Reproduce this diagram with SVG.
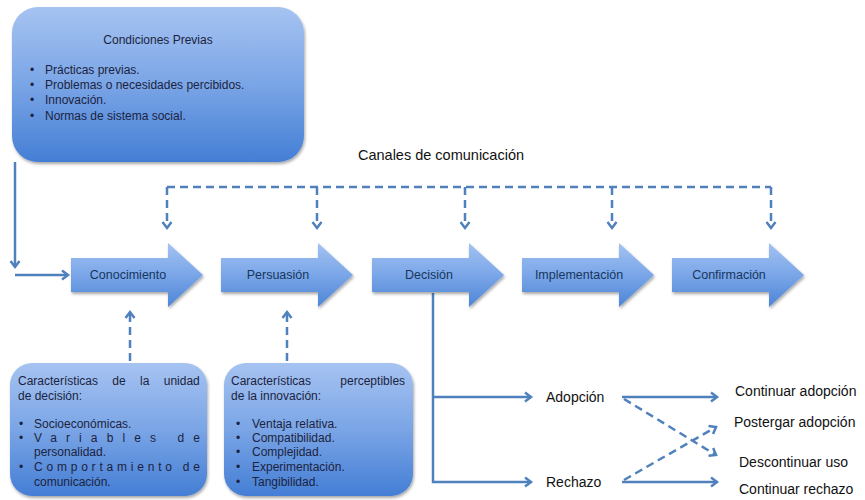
<svg xmlns="http://www.w3.org/2000/svg" width="865" height="500" viewBox="0 0 865 500">
<defs>
<linearGradient id="gBox" x1="0" y1="0" x2="0" y2="1">
<stop offset="0" stop-color="#a6c3f1"/>
<stop offset="0.5" stop-color="#7aa5e6"/>
<stop offset="1" stop-color="#447ed5"/>
</linearGradient>
<linearGradient id="gArrow" x1="0" y1="0" x2="0" y2="1">
<stop offset="0" stop-color="#a3c2f1"/>
<stop offset="0.5" stop-color="#7aa6e8"/>
<stop offset="1" stop-color="#4d85d6"/>
</linearGradient>
<filter id="sh" x="-10%" y="-10%" width="120%" height="125%">
<feDropShadow dx="1" dy="2" stdDeviation="1.5" flood-color="#000" flood-opacity="0.35"/>
</filter>
<marker id="ah" markerUnits="userSpaceOnUse" markerWidth="14" markerHeight="14" viewBox="-8 -7 14 14" refX="0" refY="0" orient="auto">
<path d="M-6,-4.5 L0,0 L-6,4.5" fill="none" stroke="#4f81bd" stroke-width="2.5"/>
</marker>
<style>
.box{fill:url(#gBox);filter:url(#sh)}
.arr{fill:url(#gArrow);filter:url(#sh)}
.t{font-family:"Liberation Sans",Arial,sans-serif;font-size:12px;fill:#1c2340}
.lab{font-family:"Liberation Sans",Arial,sans-serif;font-size:12.5px;fill:#17365d;text-anchor:middle}
.big{font-family:"Liberation Sans",Arial,sans-serif;font-size:14px;fill:#111}
.c{fill:none;stroke:#4f81bd;stroke-width:2.5}
.d{fill:none;stroke:#4f81bd;stroke-width:2.5;stroke-dasharray:8 5}
</style>
</defs>

<g id="connectors">
<path class="c" d="M15,162 V267" marker-end="url(#ah)"/>
<path class="c" d="M15,275 H68" marker-end="url(#ah)"/>
<path class="d" d="M167,187 H771"/>
<path class="d" d="M167,187 V228" marker-end="url(#ah)"/>
<path class="d" d="M317,187 V228" marker-end="url(#ah)"/>
<path class="d" d="M465,187 V228" marker-end="url(#ah)"/>
<path class="d" d="M612,187 V228" marker-end="url(#ah)"/>
<path class="d" d="M771,187 V228" marker-end="url(#ah)"/>
<path class="d" d="M130,361 V312" marker-end="url(#ah)"/>
<path class="d" d="M287,361 V312" marker-end="url(#ah)"/>
<path class="c" d="M433,293 V482 H531" marker-end="url(#ah)"/>
<path class="c" d="M433,397 H531" marker-end="url(#ah)"/>
<path class="c" d="M622,397 H717" marker-end="url(#ah)"/>
<path class="c" d="M622,482 H717" marker-end="url(#ah)"/>
<path class="d" d="M624,399 L716,455" marker-end="url(#ah)"/>
<path class="d" d="M624,480 L716,427" marker-end="url(#ah)"/>
</g>

<g id="condiciones-previas">
<rect class="box" x="12" y="7" width="292" height="155" rx="26"/>
<text class="t" x="158" y="44" text-anchor="middle">Condiciones Previas</text>
<text class="t" x="30" y="74">•</text><text class="t" x="45" y="74">Prácticas previas.</text>
<text class="t" x="30" y="89">•</text><text class="t" x="45" y="89">Problemas o necesidades percibidos.</text>
<text class="t" x="30" y="104">•</text><text class="t" x="45" y="104">Innovación.</text>
<text class="t" x="30" y="120">•</text><text class="t" x="45" y="120">Normas de sistema social.</text>
</g>

<text class="big" x="441" y="160" text-anchor="middle" style="font-size:14.5px" id="canales">Canales de comunicación</text>

<g id="conocimiento">
<path class="arr" d="M71,258 H168 V243 L203,275 L168,307 V292 H71 Z"/>
<text class="lab" x="128" y="279">Conocimiento</text>
</g>
<g id="persuasion">
<path class="arr" d="M221,258 H318 V243 L353,275 L318,307 V292 H221 Z"/>
<text class="lab" x="278" y="279">Persuasión</text>
</g>
<g id="decision">
<path class="arr" d="M372,258 H469 V243 L504,275 L469,307 V292 H372 Z"/>
<text class="lab" x="429" y="279">Decisión</text>
</g>
<g id="implementacion">
<path class="arr" d="M522,258 H619 V243 L654,275 L619,307 V292 H522 Z"/>
<text class="lab" x="579" y="279">Implementación</text>
</g>
<g id="confirmacion">
<path class="arr" d="M672,258 H769 V243 L804,275 L769,307 V292 H672 Z"/>
<text class="lab" x="729" y="279">Confirmación</text>
</g>

<g id="unidad-decision">
<rect class="box" x="10" y="363" width="197" height="133" rx="22"/>
<text class="t" x="18" y="385" word-spacing="11">Características de la unidad</text>
<text class="t" x="18" y="400">de decisión:</text>
<text class="t" x="19" y="428">•</text><text class="t" x="34" y="428">Socioeconómicas.</text>
<text class="t" x="19" y="442">•</text><text class="t" x="34" y="442" textLength="166" lengthAdjust="spacing">Variables de</text>
<text class="t" x="34" y="456">personalidad.</text>
<text class="t" x="19" y="471">•</text><text class="t" x="34" y="471" textLength="166" lengthAdjust="spacing">Comportamiento de</text>
<text class="t" x="34" y="486">comunicación.</text>
</g>

<g id="caracteristicas-innovacion">
<rect class="box" x="224" y="363" width="189" height="133" rx="22"/>
<text class="t" x="231" y="385" word-spacing="26">Características perceptibles</text>
<text class="t" x="231" y="400">de la innovación:</text>
<text class="t" x="236" y="428">•</text><text class="t" x="252" y="428">Ventaja relativa.</text>
<text class="t" x="236" y="442">•</text><text class="t" x="252" y="442">Compatibilidad.</text>
<text class="t" x="236" y="456">•</text><text class="t" x="252" y="456">Complejidad.</text>
<text class="t" x="236" y="471">•</text><text class="t" x="252" y="471">Experimentación.</text>
<text class="t" x="236" y="486">•</text><text class="t" x="252" y="486">Tangibilidad.</text>
</g>

<g id="adopcion"><text class="big" x="546" y="402">Adopción</text></g>
<g id="rechazo"><text class="big" x="546" y="487">Rechazo</text></g>
<g id="continuar-adopcion"><text class="big" x="735" y="396">Continuar adopción</text></g>
<g id="postergar-adopcion"><text class="big" x="734" y="427">Postergar adopción</text></g>
<g id="descontinuar-uso"><text class="big" x="739" y="467">Descontinuar uso</text></g>
<g id="continuar-rechazo"><text class="big" x="739" y="494">Continuar rechazo</text></g>
</svg>
